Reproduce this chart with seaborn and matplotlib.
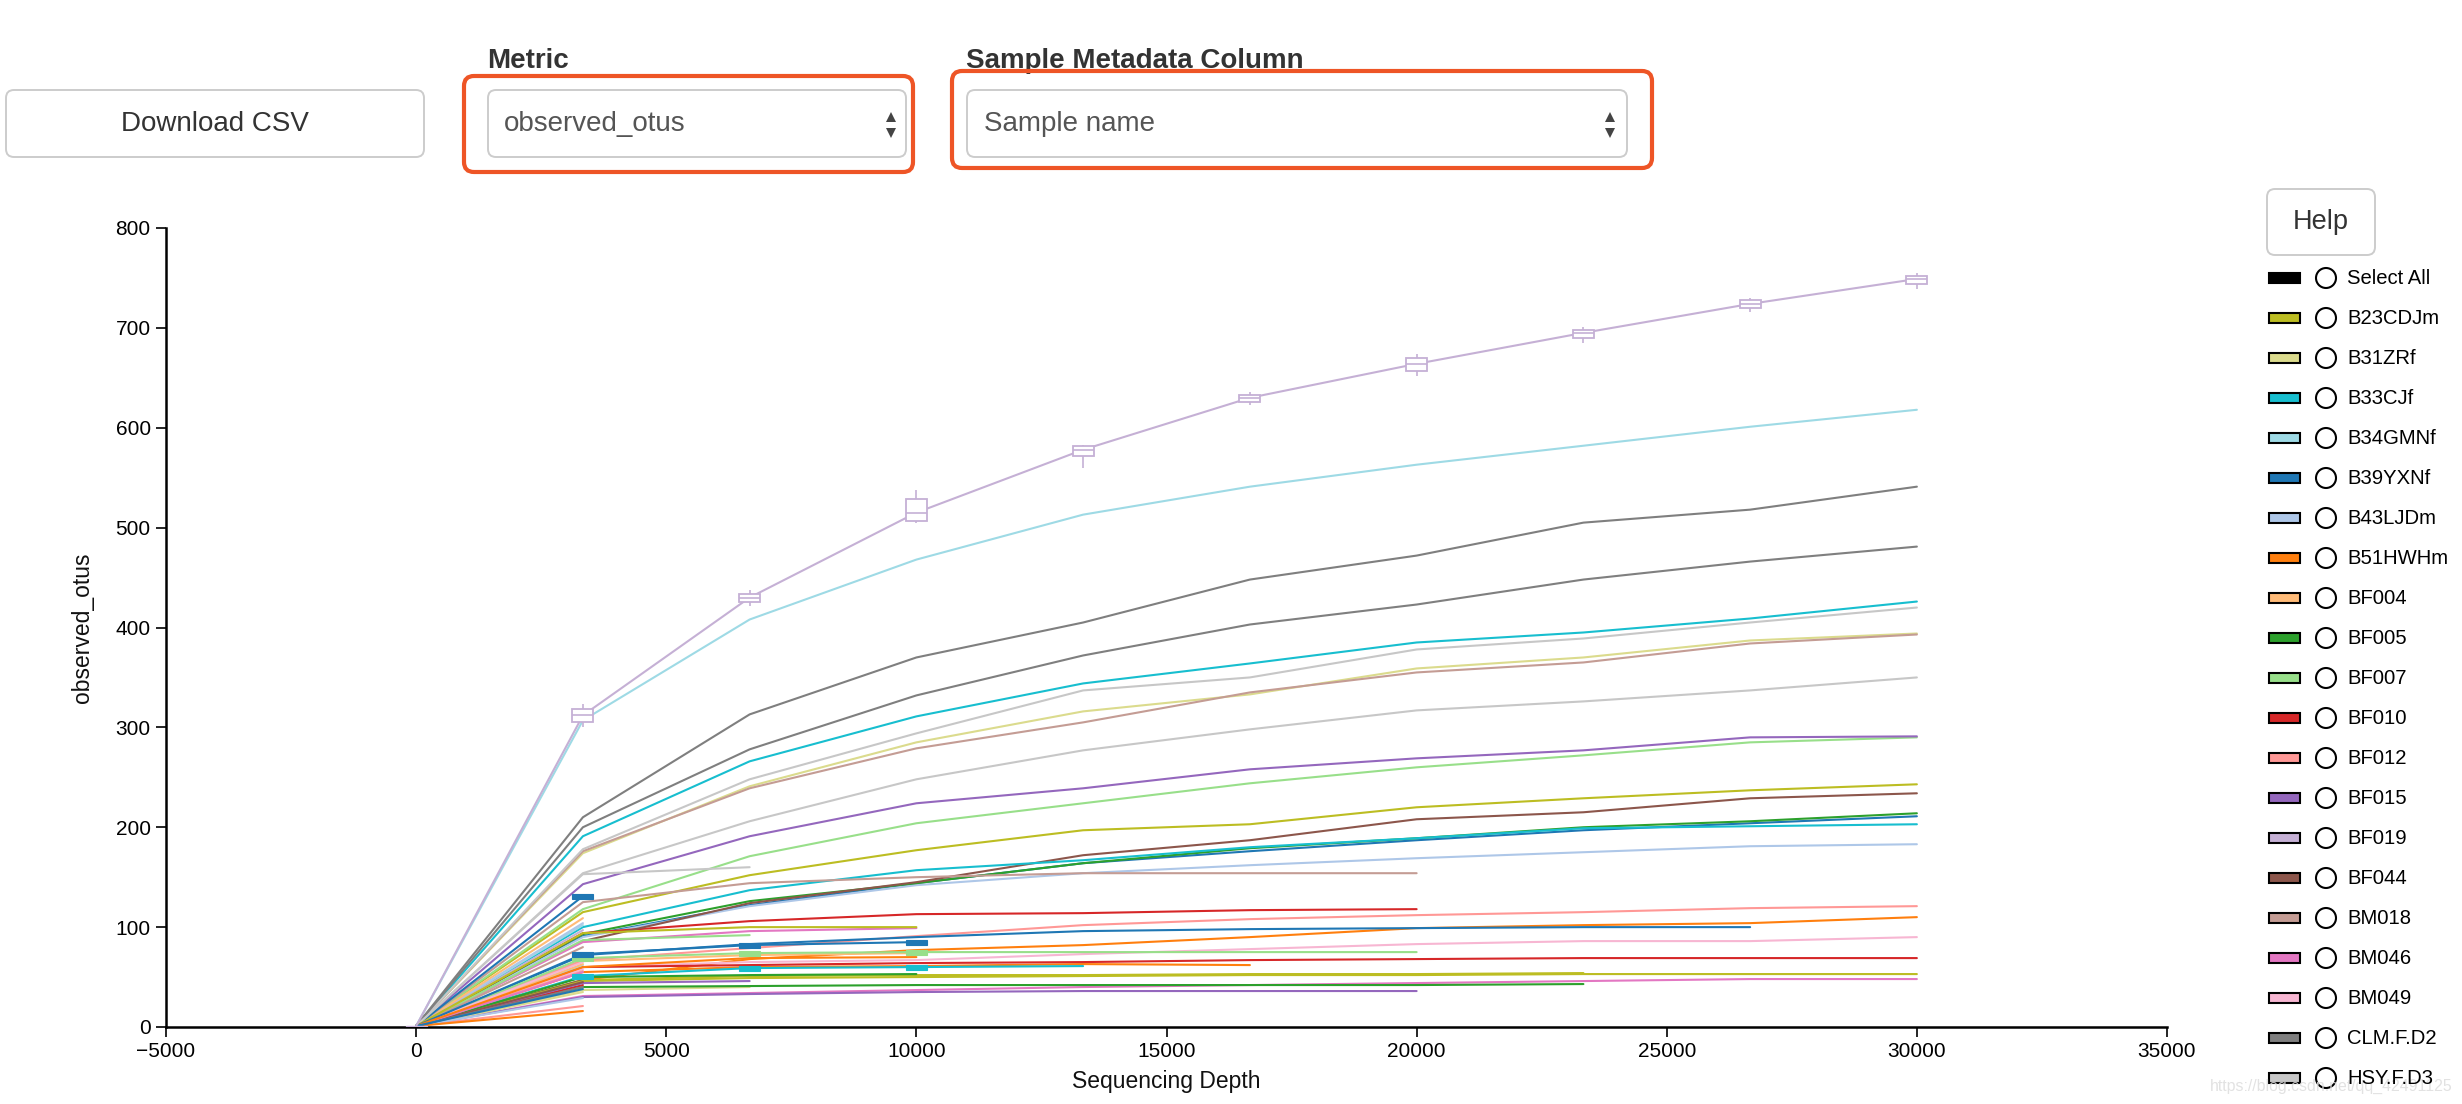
import matplotlib
matplotlib.use("Agg")
import matplotlib.pyplot as plt
import numpy as np
import pandas as pd
import seaborn as sns
from matplotlib.patches import Rectangle, FancyBboxPatch, Circle, Polygon

# ---------------- data ----------------
DEPTHS = [1, 3334, 6667, 10000, 13333, 16667, 20000, 23334, 26667, 30000]

B23CDJm = [1, 115, 152, 177, 197, 203, 220, 229, 237, 243]
B31ZRf = [1, 174, 241, 285, 316, 333, 359, 370, 387, 394]
B33CJf = [1, 191, 266, 311, 344, 364, 385, 395, 409, 426]
B34GMNf = [1, 307, 408, 468, 513, 541, 563, 582, 601, 618]
B39YXNf = [1, 91, 122, 144, 164, 176, 187, 197, 204, 211]
B43LJDm = [1, 90, 121, 142, 154, 162, 169, 175, 181, 183]
B51HWHm = [1, 47, 68, 77, 82, 90, 99, 102, 104, 110]
BF004 = [1, 66, 72, 74]
BF005 = [1, 93, 126, 144, 164, 179, 189, 200, 206, 214]
BF007 = [1, 118, 171, 204, 224, 244, 260, 272, 285, 290]
BF010 = [1, 94, 106, 113, 114, 117, 118]
BF012 = [1, 67, 79, 91, 102, 108, 112, 115, 119, 121]
BF015 = [1, 143, 191, 224, 239, 258, 269, 277, 290, 291]
BF019 = [1, 312, 430, 515, 578, 630, 664, 695, 724, 749]
BF044 = [1, 86, 124, 145, 172, 187, 208, 215, 229, 234]
BM018 = [1, 176, 239, 279, 305, 335, 355, 365, 384, 393]
BM046 = [1, 31, 34, 37, 40, 42, 44, 46, 48, 48]
BM049 = [1, 60, 65, 67, 73, 78, 83, 86, 86, 90]
CLM_F_D2 = [1, 210, 313, 370, 405, 448, 472, 505, 518, 541]
HSY_F_D3 = [1, 178, 248, 294, 337, 350, 378, 389, 405, 420]

# samples below the visible part of the legend
S20 = [1, 47, 51, 52, 52, 53, 53, 54]
S21 = [1, 37, 40]
S22 = [1, 100, 137, 157, 167, 180, 189, 199, 201, 203]
S23 = [1, 102]
S24 = [1, 72, 83, 90, 96, 98, 99, 100, 100]
S25 = [1, 104]
S26 = [1, 55, 60, 61, 63, 62]
S27 = [1, 109]
S28 = [1, 40, 41, 42, 42, 42, 42, 43]
S29 = [1, 69, 74, 75, 75, 75, 75]
S30 = [1, 60, 62, 64, 65, 67, 68, 69, 69, 69]
S31 = [1, 21]
S32 = [1, 30, 33, 35, 36, 36, 36]
S33 = [1, 97]
S34 = [1, 47]
S35 = [1, 125, 144, 150, 154, 154, 154]
S36 = [1, 85, 96, 99]
S37 = [1, 58]
S38 = [1, 200, 278, 332, 372, 403, 423, 448, 466, 481]
S39 = [1, 154, 206, 248, 277, 298, 317, 326, 337, 350]
S40 = [1, 46, 49, 50, 51, 52, 52, 53, 53, 53]
S41 = [1, 35]
S42 = [1, 51, 59, 60, 61]
S43 = [1, 62]
S44 = [1, 131]
S45 = [1, 29]
S46 = [1, 16]
S47 = [1, 63]
S48 = [1, 50, 52, 53]
S49 = [1, 87, 92]
S50 = [1, 42]
S51 = [1, 56]
S52 = [1, 44, 46]
S54 = [1, 45]
S55 = [1, 80]
S56 = [1, 55]
S57 = [1, 65]
S58 = [1, 40]
S59 = [1, 153, 160]
S60 = [1, 94, 100, 100]
S61 = [1, 73, 82, 85]
S62 = [1, 60, 69, 70]
S63 = [1, 38]

# inter-iteration spread for BF019 (boxes at depths 3334..30000)
BF019_Q1 = [305, 426, 507, 572, 626, 657, 690, 720, 744]
BF019_Q3 = [318, 434, 529, 582, 633, 670, 698, 728, 752]
BF019_LO = [300, 422, 505, 560, 623, 652, 685, 716, 739]
BF019_HI = [323, 438, 538, 583, 636, 674, 701, 730, 755]

LEGEND_NAMES = ["Select All", "B23CDJm", "B31ZRf", "B33CJf", "B34GMNf", "B39YXNf",
                "B43LJDm", "B51HWHm", "BF004", "BF005", "BF007", "BF010", "BF012",
                "BF015", "BF019", "BF044", "BM018", "BM046", "BM049", "CLM.F.D2",
                "HSY.F.D3"]
LEGEND_COLORS = ["#000000", "#bcbd22", "#dbdb8d", "#17becf", "#9edae5", "#1f77b4",
                 "#aec7e8", "#ff7f0e", "#ffbb78", "#2ca02c", "#98df8a", "#d62728",
                 "#ff9896", "#9467bd", "#c5b0d5", "#8c564b", "#c49c94", "#e377c2",
                 "#f7b6d2", "#7f7f7f", "#c7c7c7"]

SAMPLES = [
    ("B23CDJm", "#bcbd22", B23CDJm), ("B31ZRf", "#dbdb8d", B31ZRf),
    ("B33CJf", "#17becf", B33CJf), ("B34GMNf", "#9edae5", B34GMNf),
    ("B39YXNf", "#1f77b4", B39YXNf), ("B43LJDm", "#aec7e8", B43LJDm),
    ("B51HWHm", "#ff7f0e", B51HWHm), ("BF004", "#ffbb78", BF004),
    ("BF005", "#2ca02c", BF005), ("BF007", "#98df8a", BF007),
    ("BF010", "#d62728", BF010), ("BF012", "#ff9896", BF012),
    ("BF015", "#9467bd", BF015), ("BF044", "#8c564b", BF044),
    ("BM018", "#c49c94", BM018), ("BM046", "#e377c2", BM046),
    ("BM049", "#f7b6d2", BM049), ("CLM.F.D2", "#7f7f7f", CLM_F_D2),
    ("HSY.F.D3", "#c7c7c7", HSY_F_D3),
    ("S20", "#bcbd22", S20), ("S21", "#dbdb8d", S21), ("S22", "#17becf", S22),
    ("S23", "#9edae5", S23), ("S24", "#1f77b4", S24), ("S25", "#aec7e8", S25),
    ("S26", "#ff7f0e", S26), ("S27", "#ffbb78", S27), ("S28", "#2ca02c", S28),
    ("S29", "#98df8a", S29), ("S30", "#d62728", S30), ("S31", "#ff9896", S31),
    ("S32", "#9467bd", S32), ("S33", "#c5b0d5", S33), ("S34", "#8c564b", S34),
    ("S35", "#c49c94", S35), ("S36", "#e377c2", S36), ("S37", "#f7b6d2", S37),
    ("S38", "#7f7f7f", S38), ("S39", "#c7c7c7", S39), ("S40", "#bcbd22", S40),
    ("S41", "#dbdb8d", S41), ("S42", "#17becf", S42), ("S43", "#9edae5", S43),
    ("S44", "#1f77b4", S44), ("S45", "#aec7e8", S45), ("S46", "#ff7f0e", S46),
    ("S47", "#ffbb78", S47), ("S48", "#2ca02c", S48), ("S49", "#98df8a", S49),
    ("S50", "#d62728", S50), ("S51", "#ff9896", S51), ("S52", "#9467bd", S52),
    ("S54", "#8c564b", S54), ("S55", "#c49c94", S55), ("S56", "#e377c2", S56),
    ("S57", "#f7b6d2", S57), ("S58", "#7f7f7f", S58), ("S59", "#c7c7c7", S59),
    ("S60", "#bcbd22", S60), ("S61", "#1f77b4", S61), ("S62", "#ff7f0e", S62),
    ("S63", "#1f77b4", S63),
    ("BF019", "#c5b0d5", BF019),
]
BOXED = ["S44", "S61", "S29", "S42"]
BOXED_DEPTHS = [3334, 6667, 10000]

# ---------------- style ----------------
sns.set_theme(style="white")
plt.rcParams["font.family"] = ["Liberation Sans", "DejaVu Sans"]

W, H = 2462, 1104
fig = plt.figure(figsize=(W / 100, H / 100), dpi=100)
fig.patch.set_facecolor("white")

# overlay (pixel coordinates) for the page widgets
ui = fig.add_axes([0, 0, 1, 1])
ui.set_xlim(0, W)
ui.set_ylim(H, 0)
ui.axis("off")
ui.patch.set_alpha(0)

# plot axes
L, R, T, B = 166, 2167, 228, 1027
ax = fig.add_axes([L / W, (H - B) / H, (R - L) / W, (B - T) / H])
ax.patch.set_alpha(0)

rows = []
for name, color, vals in SAMPLES:
    for d, v in zip(DEPTHS, vals):
        rows.append({"sample": name, "depth": d, "value": v})
df = pd.DataFrame(rows)
palette = {name: color for name, color, _ in SAMPLES}
order = [name for name, _, _ in SAMPLES]

sns.lineplot(data=df, x="depth", y="value", hue="sample", hue_order=order,
             palette=palette, estimator=None, sort=True, legend=False,
             linewidth=1.5, ax=ax)

# BF019 boxes
bw = 420
for d, q1, q3, lo, hi, med in zip(DEPTHS[1:], BF019_Q1, BF019_Q3, BF019_LO, BF019_HI, BF019[1:]):
    ax.vlines(d, lo, hi, color="#c5b0d5", lw=1.2, zorder=5)
    ax.add_patch(Rectangle((d - bw / 2, q1), bw, q3 - q1, facecolor="white",
                           edgecolor="#c5b0d5", lw=1.3, zorder=6))
    ax.hlines(med, d - bw / 2, d + bw / 2, color="#c5b0d5", lw=1.2, zorder=7)
ax.add_patch(Rectangle((1 - bw / 2, 0), bw, 1.5, facecolor="#c5b0d5",
                       edgecolor="#c5b0d5", lw=1.0, zorder=6))

# small boxes of a few samples (first three depths)
for name, color, vals in SAMPLES:
    if name in BOXED:
        for d, v in zip(DEPTHS[1:], vals[1:]):
            if d in BOXED_DEPTHS:
                ax.add_patch(Rectangle((d - bw / 2, v - 2.5), bw, 5, facecolor=color,
                                       edgecolor=color, lw=0.8, zorder=6))

ax.set_xlim(-5000, 35000)
ax.set_ylim(0, 800)
ax.set_xticks(np.arange(-5000, 35001, 5000))
ax.set_yticks(np.arange(0, 801, 100))
for s in ["top", "right"]:
    ax.spines[s].set_visible(False)
for s in ["left", "bottom"]:
    ax.spines[s].set_color("black")
    ax.spines[s].set_linewidth(1.8)
ax.tick_params(axis="both", direction="out", length=7, width=1.2, color="black",
               labelsize=15, labelcolor="black", pad=4, bottom=True, left=True)
ax.set_xlabel("Sequencing Depth", fontsize=16.5, color="#111111")
ax.set_ylabel("observed_otus", fontsize=16.5, color="#111111")
ax.xaxis.set_label_coords(0.5, -0.054)
ax.yaxis.set_label_coords(-0.036, 0.5)
ax.grid(False)

# ---------------- widgets ----------------
def rbox(x0, y0, x1, y1, ec, lw, r=8, fc="white", z=1):
    ui.add_patch(FancyBboxPatch((x0, y0), x1 - x0, y1 - y0,
                                boxstyle=f"round,pad=0,rounding_size={r}",
                                facecolor=fc, edgecolor=ec, lw=lw, zorder=z))

rbox(6, 90, 424, 157, "#cccccc", 1.4)
ui.text(215, 124, "Download CSV", ha="center", va="center", fontsize=20, color="#333333")

ui.text(487, 61, "Metric", ha="left", va="center", fontsize=20, fontweight="bold", color="#333333")
rbox(464, 76, 913, 172, "#ee5526", 3.0, r=10, fc="none", z=3)
rbox(488, 90, 906, 157, "#cccccc", 1.4)
ui.text(504, 124, "observed_otus", ha="left", va="center", fontsize=20, color="#555555")

ui.text(966, 61, "Sample Metadata Column", ha="left", va="center", fontsize=20,
        fontweight="bold", color="#333333")
rbox(952, 71, 1652, 168, "#ee5526", 3.0, r=10, fc="none", z=3)
rbox(967, 90, 1627, 157, "#cccccc", 1.4)
ui.text(984, 124, "Sample name", ha="left", va="center", fontsize=20, color="#555555")

for cx in (891, 1610):
    ui.add_patch(Polygon([[cx - 5, 122], [cx + 5, 122], [cx, 112]], closed=True,
                         facecolor="#444444", edgecolor="none", zorder=4))
    ui.add_patch(Polygon([[cx - 5, 128], [cx + 5, 128], [cx, 138]], closed=True,
                         facecolor="#444444", edgecolor="none", zorder=4))

rbox(2267, 189, 2375, 255, "#cccccc", 1.4)
ui.text(2321, 222, "Help", ha="center", va="center", fontsize=19.5, color="#333333")

for i, (name, color) in enumerate(zip(LEGEND_NAMES, LEGEND_COLORS)):
    y = 278 + 40 * i
    ui.add_patch(Rectangle((2269, y - 5), 31, 10, facecolor=color, edgecolor="black",
                           lw=1.5, zorder=4))
    ui.add_patch(Circle((2326, y), 10, facecolor="white", edgecolor="black",
                        lw=1.5, zorder=4))
    ui.text(2347, y + 1, name, ha="left", va="center", fontsize=14.6, color="black", zorder=5)

ui.text(2210, 1086, "https://blog.csdn.net/qq_42491125", ha="left", va="center",
        fontsize=11.4, color="#dddddd", alpha=0.85, zorder=4)

fig.savefig("out.png", dpi=100, facecolor="white")
